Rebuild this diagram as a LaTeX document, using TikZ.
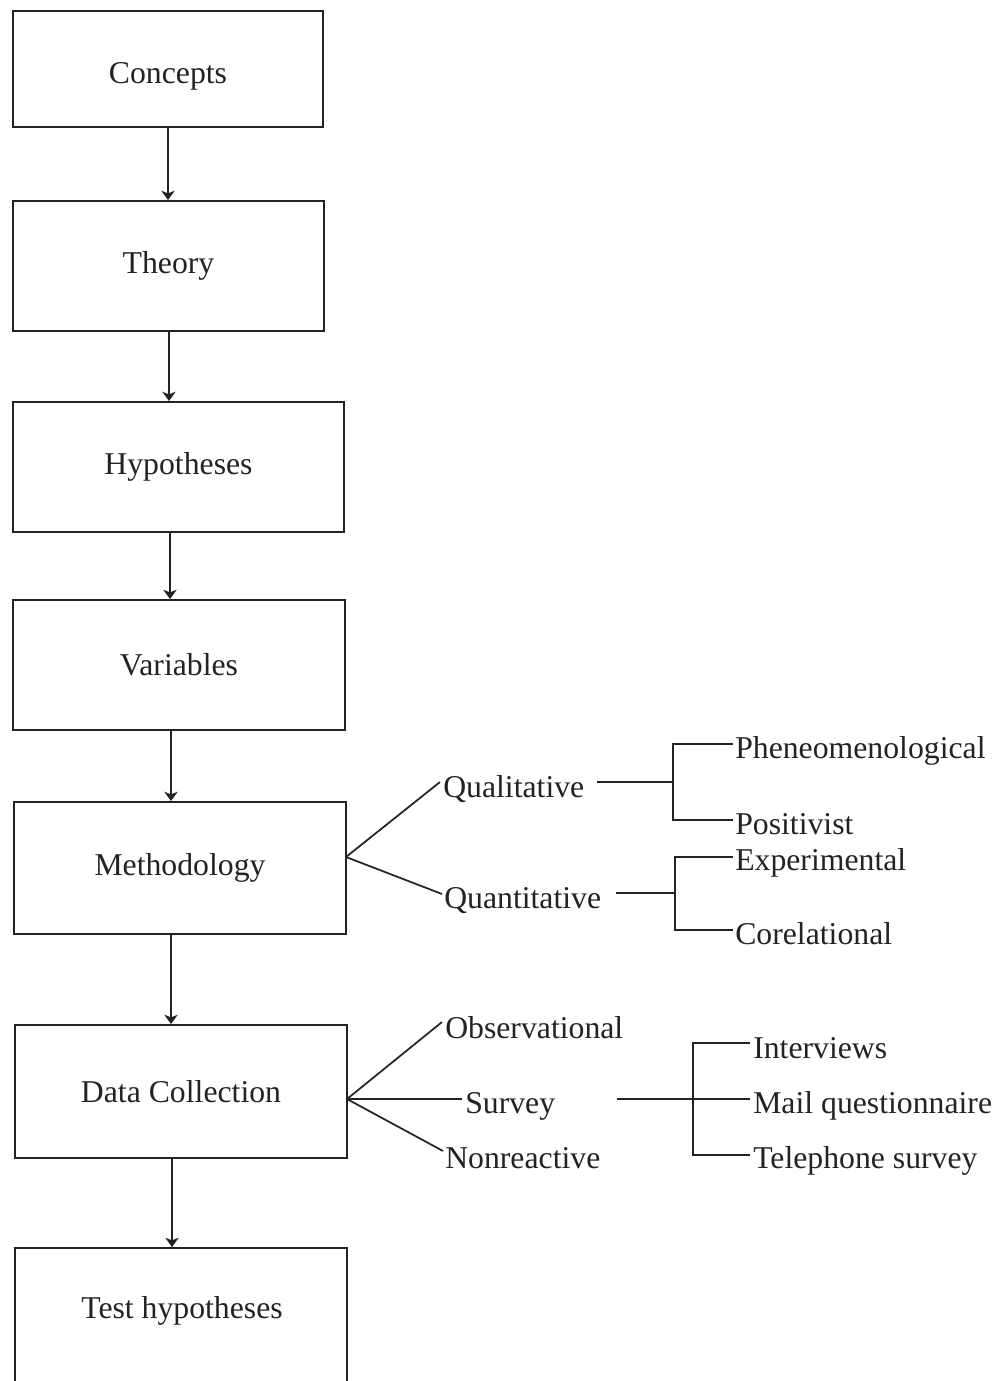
\documentclass[tikz,border=0pt]{standalone}
\usepackage{fontspec}
\setmainfont{Liberation Serif}
\usetikzlibrary{arrows.meta}
\definecolor{ink}{RGB}{35,35,35}
\newcommand{\lblfont}{\fontsize{23.8}{28}\selectfont}
\begin{document}
\begin{tikzpicture}[x=0.75pt,y=-0.75pt,
  box/.style={draw=ink, line width=1.4pt, rectangle, inner sep=0pt, align=center, font=\lblfont, text=ink},
  arr/.style={-{Stealth[width=10pt,length=7pt,inset=2pt]}, draw=ink, line width=1.3pt},
  ln/.style={draw=ink, line width=1.3pt},
  lab/.style={anchor=base west, inner sep=0pt, font=\lblfont, text=ink}]
\useasboundingbox[fill=white] (0,0) rectangle (1003,1381);

% boxes
\node[box, minimum width=232.5pt, minimum height=87pt, text height=27pt] (b1) at (168,69) {Concepts};
\node[box, minimum width=233.25pt, minimum height=97.5pt] (b2) at (168.5,266) {Theory};
\node[box, minimum width=248.25pt, minimum height=97.5pt] (b3) at (178.5,467) {Hypotheses};
\node[box, minimum width=249pt, minimum height=97.5pt] (b4) at (179,665) {Variables};
\node[box, minimum width=249pt, minimum height=99pt] (b5) at (180,868) {Methodology};
\node[box, minimum width=249pt, minimum height=99.75pt] (b6) at (181,1091.5) {Data Collection};
\node[box, minimum width=249pt, minimum height=129pt] (b7) at (181,1334) {};
\node[lab, anchor=center] (t7) at (182,1311) {Test hypotheses};

% arrow x positions
\coordinate (a1) at (168,0);
\coordinate (a2) at (169,0);
\coordinate (a3) at (170,0);
\coordinate (a4) at (171,0);
\coordinate (a5) at (171,0);
\coordinate (a6) at (172,0);
\draw[arr] (b1.south -| a1) -- (b2.north -| a1);
\draw[arr] (b2.south -| a2) -- (b3.north -| a2);
\draw[arr] (b3.south -| a3) -- (b4.north -| a3);
\draw[arr] (b4.south -| a4) -- (b5.north -| a4);
\draw[arr] (b5.south -| a5) -- (b6.north -| a5);
\draw[arr] (b6.south -| a6) -- (b7.north -| a6);

% methodology branch labels
\node[lab] (qual) at (443,797) {Qualitative};
\node[lab] (quan) at (444,908) {Quantitative};
\node[lab] (phen) at (735,758) {Pheneomenological};
\node[lab] (posi) at (735,834) {Positivist};
\node[lab] (expe) at (735,870) {Experimental};
\node[lab] (core) at (735,944) {Corelational};

\coordinate (mf) at (346,857);
\coordinate (qualend) at (440,782);
\coordinate (quanend) at (442,894);
\draw[ln] (mf) -- (qualend);
\draw[ln] (mf) -- (quanend);

\coordinate (qs) at (597,782);
\coordinate (qb) at (673,782);
\draw[ln] (qs) -- (qb);
\draw[ln] (733,744) -- (673,744) -- (673,820) -- (733,820);

\coordinate (ns) at (616,893);
\coordinate (nb) at (675,893);
\draw[ln] (ns) -- (nb);
\draw[ln] (733,857) -- (675,857) -- (675,930) -- (733,930);

% data collection branch labels
\node[lab] (obse) at (445,1038) {Observational};
\node[lab] (surv) at (465,1113) {Survey};
\node[lab] (nonr) at (445,1168) {Nonreactive};
\node[lab] (intv) at (753,1058) {Interviews};
\node[lab] (mail) at (753,1113) {Mail questionnaire};
\node[lab] (tele) at (753,1168) {Telephone survey};

\coordinate (df) at (347,1099);
\coordinate (obsend) at (442,1022);
\coordinate (survend) at (462,1099);
\coordinate (nonend) at (443,1151);
\draw[ln] (df) -- (obsend);
\draw[ln] (df) -- (survend);
\draw[ln] (df) -- (nonend);

\coordinate (ss) at (617,1099);
\coordinate (se) at (750,1099);
\draw[ln] (ss) -- (se);
\draw[ln] (750,1043) -- (693,1043) -- (693,1155) -- (750,1155);
\end{tikzpicture}
\end{document}
